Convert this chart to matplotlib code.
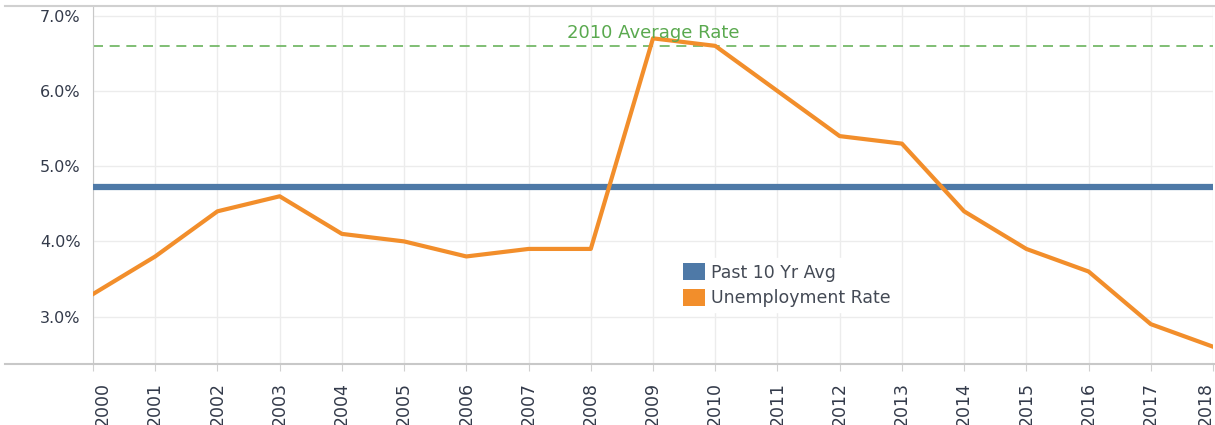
import matplotlib.pyplot as plt
import matplotlib.transforms as mtransforms
from matplotlib.lines import Line2D
from matplotlib.patches import Patch

years = list(range(2000, 2019))
unemployment = [3.3, 3.8, 4.4, 4.6, 4.1, 4.0, 3.8, 3.9, 3.9, 6.7,
                6.6, 6.0, 5.4, 5.3, 4.4, 3.9, 3.6, 2.9, 2.6]
past_avg = 4.73
avg_2010 = 6.6
y_ticks = [3.0, 4.0, 5.0, 6.0, 7.0]

blue = '#4e79a7'
orange = '#f28e2b'
text_col = '#333a4a'

fig = plt.figure(figsize=(12.15, 4.25), dpi=100)
ax = fig.add_axes([93 / 1215, 1 - 364 / 425, 1120 / 1215, 358 / 425])

ax.axhline(avg_2010, color='#6ab35c', linestyle=(0, (6, 4)), linewidth=1.2, zorder=2)
ax.axhline(past_avg, color=blue, linewidth=4.5, zorder=3)
ax.plot(years, unemployment, color=orange, linewidth=3, zorder=4)
ax.text(2009.0, avg_2010 + 0.05, '2010 Average Rate', color='#5aa94f',
        fontsize=13, ha='center', va='bottom', zorder=5)

ax.set_xlim(2000, 2018)
ax.set_ylim(2.37, 7.13)
ax.set_xticks(years)
ax.set_xticklabels([str(y) for y in years], rotation=90, fontsize=12.5,
                   color=text_col)
ax.set_yticks(y_ticks)
ax.set_yticklabels([f'{v:.1f}%' for v in y_ticks], fontsize=11.5, color=text_col)
ax.tick_params(axis='y', length=0, pad=9)
ax.tick_params(axis='x', length=5, color='#d0d0d0', pad=8)
ax.grid(True, color='#ececec', linewidth=1)
ax.set_axisbelow(True)
for side in ['top', 'right', 'bottom']:
    ax.spines[side].set_visible(False)
ax.spines['left'].set_color('#c8c8c8')

# first and last year labels are pushed inward, as in the original
labels = ax.get_xticklabels()
labels[0].set_transform(labels[0].get_transform() +
                        mtransforms.ScaledTranslation(0.10, 0, fig.dpi_scale_trans))
labels[-1].set_transform(labels[-1].get_transform() +
                         mtransforms.ScaledTranslation(-0.07, 0, fig.dpi_scale_trans))

# full-width rules at top and bottom of the plot region
fig.add_artist(Line2D([5 / 1215, 1], [1 - 6 / 425] * 2, color='#d0d0d0', linewidth=1.5))
fig.add_artist(Line2D([5 / 1215, 1], [1 - 364 / 425] * 2, color='#c8c8c8', linewidth=1.5))

handles = [Patch(facecolor=blue, label='Past 10 Yr Avg'),
           Patch(facecolor=orange, label='Unemployment Rate')]
leg = ax.legend(handles=handles, loc='upper left', bbox_to_anchor=(0.522, 0.296),
                frameon=True, fontsize=12.5, handlelength=1.27, handleheight=1.15,
                handletextpad=0.35, labelspacing=0.4, borderpad=0.3,
                borderaxespad=0)
leg.get_frame().set_facecolor('white')
leg.get_frame().set_edgecolor('white')
leg.get_frame().set_alpha(1)
leg.set_zorder(6)
for t in leg.get_texts():
    t.set_color('#444a55')

fig.savefig('out.png', dpi=100)
